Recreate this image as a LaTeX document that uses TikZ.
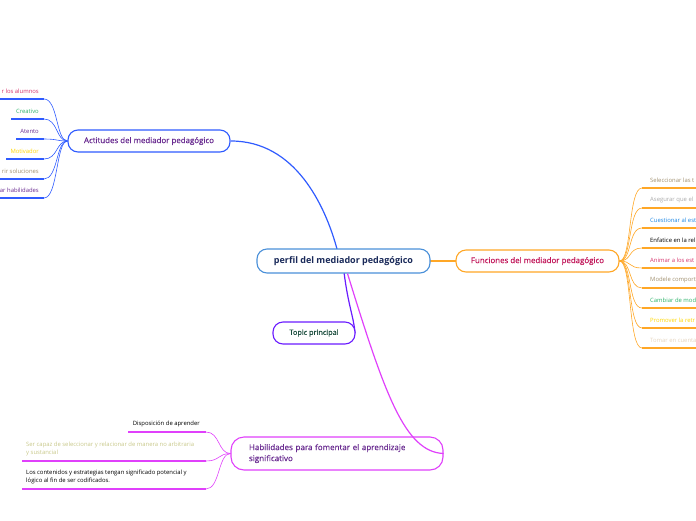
\documentclass[tikz,border=0pt]{standalone}
\usepackage{fontspec}
\setmainfont{Open Sans}
\newfontfamily\medfont[FakeBold=0.5]{Open Sans}
\definecolor{cblue}{HTML}{4A90D9}
\definecolor{cnavy}{HTML}{1A2A5A}
\definecolor{abl}{HTML}{2F5BFF}
\definecolor{apur}{HTML}{6A2C91}
\definecolor{forg}{HTML}{FFA726}
\definecolor{fred}{HTML}{C2185B}
\definecolor{tpur}{HTML}{6A1BFF}
\definecolor{tgrn}{HTML}{1B4D3E}
\definecolor{hmag}{HTML}{E040FB}
\definecolor{cpink}{HTML}{D6336C}
\definecolor{cgreen}{HTML}{2DB36B}
\definecolor{cyel}{HTML}{FFD600}
\definecolor{ctan}{HTML}{A09070}
\definecolor{cgray}{HTML}{AAAAAA}
\definecolor{cbl2}{HTML}{1E88E5}
\definecolor{cbeige}{HTML}{E5D5C0}
\definecolor{colive}{HTML}{C8C88A}
\tikzset{
  mainbox/.style={draw, rounded corners=10pt, line width=1.1pt, fill=white, inner sep=0pt, align=center},
  small/.style={font=\fontsize{5.9}{8}\selectfont, inner sep=0pt},
  uline/.style={line width=1.8pt},
  twig/.style={line width=0.6pt},
  branch/.style={line width=1.2pt},
}
\begin{document}
\begin{tikzpicture}[x=1pt,y=-1pt]
\useasboundingbox (0,0) rectangle (696,520);
% main connectors
\draw[branch, abl] (231,141) .. controls (295,141) and (325,205) .. (337,249);
\draw[branch, tpur] (344,272) .. controls (348,305) and (354,318) .. (355,333);
\draw[branch, forg] (430,261) -- (457,261);
% nodes
\node[mainbox, draw=cblue, text=cnavy, minimum width=173pt, minimum height=24pt, font=\fontsize{9}{10}\selectfont\bfseries] (cen) at (343.5,261) {perfil del mediador pedagógico};
\node[mainbox, draw=abl, text=apur, minimum width=162pt, minimum height=22pt, font=\fontsize{7.9}{9}\selectfont\medfont] (act) at (149,141) {Actitudes del mediador pedagógico};
\node[mainbox, draw=forg, text=fred, minimum width=163pt, minimum height=22pt, font=\fontsize{7.9}{9}\selectfont\medfont] (fun) at (537.5,261) {Funciones del mediador pedagógico};
\node[mainbox, draw=tpur, text=tgrn, minimum width=82pt, minimum height=22pt, font=\fontsize{7.3}{9}\selectfont\medfont] (top) at (314,333) {Topic principal};
\node[mainbox, draw=hmag, text=apur, rounded corners=13pt, text width=176pt, inner xsep=18pt, minimum height=33pt, align=left, font=\fontsize{8}{11}\selectfont\medfont] (hab) at (337,453.5) {Habilidades para fomentar el aprendizaje\\significativo};
\draw[branch, hmag] (cen.south) ++(4,0) .. controls (385,395) and (405,452) .. (hab.east);
% Actitudes children
\foreach \n/\xs/\yy/\col/\txt in {1/0/99/cpink/r los alumnos, 2/11/119/cgreen/Creativo, 3/16/139/apur/Atento, 4/6/159/cyel/Motivador, 5/0/179/ctan/rir soluciones, 6/0/198/apur/ar habilidades}{
  \coordinate (as\n) at (\xs,\yy);
  \coordinate (ae\n) at (44,\yy);
  \node[small, text=\col, anchor=south east] (at\n) at (39,\yy-5) {\txt};
  \draw[uline, abl] (as\n) -- (ae\n);
  \draw[twig, abl] (ae\n) .. controls (58,\yy) and (56,141) .. (act.west);
}
% Funciones children
\foreach \n/\yy/\col/\txt in {1/188/ctan/Seleccionar las t, 2/208/cgray/Asegurar que el, 3/228/cbl2/Cuestionar al est, 4/248/black/Enfatice en la rel, 5/268/cpink/Animar a los est, 6/288/ctan/Modele comport, 7/308/cgreen/Cambiar de mod, 8/328/cyel/Promover la retr, 9/348/cbeige/Tomar en cuenta}{
  \coordinate (fs\n) at (642,\yy);
  \coordinate (fe\n) at (696,\yy);
  \node[small, text=\col, anchor=south west] (ft\n) at (650,\yy-5) {\txt};
  \draw[uline, forg] (fs\n) -- (fe\n);
  \draw[twig, forg] (fun.east) .. controls (632,261) and (628,\yy) .. (fs\n);
}
% Habilidades children
\coordinate (hs1) at (128,432); \coordinate (he1) at (206,432);
\coordinate (hs2) at (22,461); \coordinate (he2) at (206,461);
\coordinate (hs3) at (22,489); \coordinate (he3) at (206,489);
\node[small, anchor=south east] (ht1) at (200,427.5) {Disposición de aprender};
\node[small, text=colive, anchor=south west, align=left] (ht2) at (26,456) {Ser capaz de seleccionar y relacionar de manera no arbitraria\\y sustancial};
\node[small, anchor=south west, align=left] (ht3) at (26,484) {Los contenidos y estrategias tengan significado potencial y\\lógico al fin de ser codificados.};
\foreach \n/\yy in {1/432,2/461,3/489}{
  \draw[uline, hmag] (hs\n) -- (he\n);
  \draw[twig, hmag] (he\n) .. controls (220,\yy) and (218,453.5) .. (hab.west);
}
\end{tikzpicture}
\end{document}
